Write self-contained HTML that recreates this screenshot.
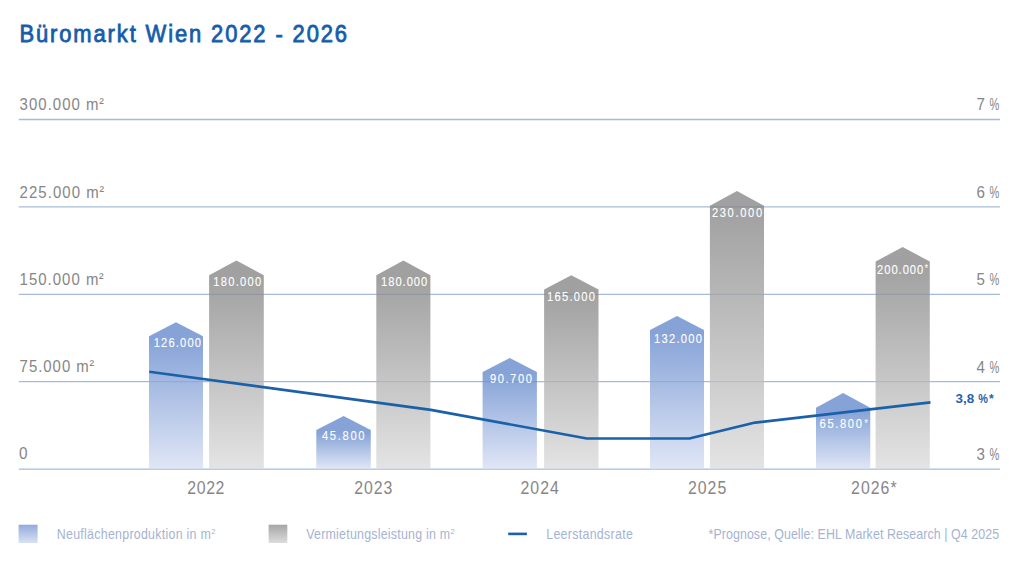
<!DOCTYPE html>
<html><head><meta charset="utf-8"><title>Büromarkt Wien 2022 - 2026</title>
<style>
html,body{margin:0;padding:0;background:#fff;width:1024px;height:576px;overflow:hidden;}
svg{display:block;font-family:"Liberation Sans", sans-serif;}
</style></head><body>
<svg width="1024" height="576" viewBox="0 0 1024 576">
<defs>
<linearGradient id="gb" x1="0" y1="0" x2="0" y2="1">
<stop offset="0" stop-color="#6388ca"/><stop offset="1" stop-color="#dae2f5"/>
</linearGradient>
<linearGradient id="gg" x1="0" y1="0" x2="0" y2="1">
<stop offset="0" stop-color="#858585"/><stop offset="1" stop-color="#dcdcdc"/>
</linearGradient>
<linearGradient id="lb" x1="0" y1="0" x2="0" y2="1">
<stop offset="0" stop-color="#92aadb"/><stop offset="1" stop-color="#d9e2f3"/>
</linearGradient>
<linearGradient id="lg" x1="0" y1="0" x2="0" y2="1">
<stop offset="0" stop-color="#a6a6a6"/><stop offset="1" stop-color="#dcdcdc"/>
</linearGradient>
</defs>
<rect width="1024" height="576" fill="#fff"/>
<text transform="translate(19.50 42.30) scale(0.9 1)" x="0" y="0" font-size="24.4" fill="#155dab" font-weight="normal" textLength="363.89" lengthAdjust="spacing" stroke="#155dab" stroke-width="0.85">Büromarkt Wien 2022 - 2026</text>
<text transform="translate(19.60 110.20) scale(0.88 1)" x="0" y="0" font-size="17" fill="#868686" font-weight="normal" textLength="89.66" lengthAdjust="spacing">300.000 m</text>
<text transform="translate(99.20 108.30) scale(0.95 1)" x="0" y="0" font-size="14.5" fill="#868686" font-weight="normal">²</text>
<text transform="translate(19.60 197.50) scale(0.88 1)" x="0" y="0" font-size="17" fill="#868686" font-weight="normal" textLength="90.00" lengthAdjust="spacing">225.000 m</text>
<text transform="translate(99.50 195.60) scale(0.95 1)" x="0" y="0" font-size="14.5" fill="#868686" font-weight="normal">²</text>
<text transform="translate(19.60 284.80) scale(0.88 1)" x="0" y="0" font-size="17" fill="#868686" font-weight="normal" textLength="89.55" lengthAdjust="spacing">150.000 m</text>
<text transform="translate(99.10 282.90) scale(0.95 1)" x="0" y="0" font-size="14.5" fill="#868686" font-weight="normal">²</text>
<text transform="translate(19.60 372.10) scale(0.88 1)" x="0" y="0" font-size="17" fill="#868686" font-weight="normal" textLength="78.64" lengthAdjust="spacing">75.000 m</text>
<text transform="translate(89.50 370.20) scale(0.95 1)" x="0" y="0" font-size="14.5" fill="#868686" font-weight="normal">²</text>
<text transform="translate(19.00 459.40) scale(0.9 1)" x="0" y="0" font-size="17" fill="#868686" font-weight="normal">0</text>
<text transform="translate(976.60 110.40) scale(0.89 1)" x="0" y="0" font-size="17" fill="#868686" font-weight="normal">7</text>
<text transform="translate(989.60 110.40) scale(0.65 1)" x="0" y="0" font-size="17" fill="#868686" font-weight="normal">%</text>
<text transform="translate(976.60 197.80) scale(0.89 1)" x="0" y="0" font-size="17" fill="#868686" font-weight="normal">6</text>
<text transform="translate(989.60 197.80) scale(0.65 1)" x="0" y="0" font-size="17" fill="#868686" font-weight="normal">%</text>
<text transform="translate(976.60 285.30) scale(0.89 1)" x="0" y="0" font-size="17" fill="#868686" font-weight="normal">5</text>
<text transform="translate(989.60 285.30) scale(0.65 1)" x="0" y="0" font-size="17" fill="#868686" font-weight="normal">%</text>
<text transform="translate(976.60 372.50) scale(0.89 1)" x="0" y="0" font-size="17" fill="#868686" font-weight="normal">4</text>
<text transform="translate(989.60 372.50) scale(0.65 1)" x="0" y="0" font-size="17" fill="#868686" font-weight="normal">%</text>
<text transform="translate(976.60 460.10) scale(0.89 1)" x="0" y="0" font-size="17" fill="#868686" font-weight="normal">3</text>
<text transform="translate(989.60 460.10) scale(0.65 1)" x="0" y="0" font-size="17" fill="#868686" font-weight="normal">%</text>
<line x1="18.8" y1="119.5" x2="1000" y2="119.5" stroke="#a6bbdb" stroke-width="1.3"/>
<line x1="18.8" y1="206.9" x2="1000" y2="206.9" stroke="#a6bbdb" stroke-width="1.3"/>
<line x1="18.8" y1="294.4" x2="1000" y2="294.4" stroke="#a6bbdb" stroke-width="1.3"/>
<line x1="18.8" y1="381.6" x2="1000" y2="381.6" stroke="#a6bbdb" stroke-width="1.3"/>
<line x1="18.8" y1="469.2" x2="1000" y2="469.2" stroke="#a6bbdb" stroke-width="1.3"/>
<linearGradient id="g1" gradientUnits="userSpaceOnUse" x1="0" y1="339.2" x2="0" y2="468.6"><stop offset="0" stop-color="#6489cc"/><stop offset="1" stop-color="#d7dff3"/></linearGradient><path d="M149.0 468.6 L149.0 336.2 L176.0 322.3 L203.0 336.2 L203.0 468.6 Z" fill="url(#g1)" fill-opacity="0.78"/>
<linearGradient id="g2" gradientUnits="userSpaceOnUse" x1="0" y1="432.9" x2="0" y2="468.6"><stop offset="0" stop-color="#6489cc"/><stop offset="1" stop-color="#d7dff3"/></linearGradient><path d="M316.3 468.6 L316.3 429.9 L343.6 416.0 L370.8 429.9 L370.8 468.6 Z" fill="url(#g2)" fill-opacity="0.78"/>
<linearGradient id="g3" gradientUnits="userSpaceOnUse" x1="0" y1="374.9" x2="0" y2="468.6"><stop offset="0" stop-color="#6489cc"/><stop offset="1" stop-color="#d7dff3"/></linearGradient><path d="M482.6 468.6 L482.6 371.9 L509.8 357.9 L536.9 371.9 L536.9 468.6 Z" fill="url(#g3)" fill-opacity="0.78"/>
<linearGradient id="g4" gradientUnits="userSpaceOnUse" x1="0" y1="332.9" x2="0" y2="468.6"><stop offset="0" stop-color="#6489cc"/><stop offset="1" stop-color="#d7dff3"/></linearGradient><path d="M650.0 468.6 L650.0 329.9 L677.0 316.0 L704.0 329.9 L704.0 468.6 Z" fill="url(#g4)" fill-opacity="0.78"/>
<linearGradient id="g5" gradientUnits="userSpaceOnUse" x1="0" y1="410.8" x2="0" y2="468.6"><stop offset="0" stop-color="#6489cc"/><stop offset="1" stop-color="#d7dff3"/></linearGradient><path d="M816.0 468.6 L816.0 407.8 L843.1 393.0 L870.3 407.8 L870.3 468.6 Z" fill="url(#g5)" fill-opacity="0.78"/>
<linearGradient id="g6" gradientUnits="userSpaceOnUse" x1="0" y1="278.2" x2="0" y2="468.6"><stop offset="0" stop-color="#868686"/><stop offset="1" stop-color="#dcdcdc"/></linearGradient><path d="M209.1 468.6 L209.1 275.2 L236.4 260.4 L263.8 275.2 L263.8 468.6 Z" fill="url(#g6)" fill-opacity="0.78"/>
<linearGradient id="g7" gradientUnits="userSpaceOnUse" x1="0" y1="278.2" x2="0" y2="468.6"><stop offset="0" stop-color="#868686"/><stop offset="1" stop-color="#dcdcdc"/></linearGradient><path d="M376.3 468.6 L376.3 275.2 L403.4 260.6 L430.4 275.2 L430.4 468.6 Z" fill="url(#g7)" fill-opacity="0.78"/>
<linearGradient id="g8" gradientUnits="userSpaceOnUse" x1="0" y1="292.5" x2="0" y2="468.6"><stop offset="0" stop-color="#868686"/><stop offset="1" stop-color="#dcdcdc"/></linearGradient><path d="M544.1 468.6 L544.1 289.5 L571.3 275.2 L598.5 289.5 L598.5 468.6 Z" fill="url(#g8)" fill-opacity="0.78"/>
<linearGradient id="g9" gradientUnits="userSpaceOnUse" x1="0" y1="208.7" x2="0" y2="468.6"><stop offset="0" stop-color="#868686"/><stop offset="1" stop-color="#dcdcdc"/></linearGradient><path d="M709.9 468.6 L709.9 205.7 L737.0 191.1 L764.0 205.7 L764.0 468.6 Z" fill="url(#g9)" fill-opacity="0.78"/>
<linearGradient id="g10" gradientUnits="userSpaceOnUse" x1="0" y1="264.5" x2="0" y2="468.6"><stop offset="0" stop-color="#868686"/><stop offset="1" stop-color="#dcdcdc"/></linearGradient><path d="M875.6 468.6 L875.6 261.5 L902.7 247.1 L929.8 261.5 L929.8 468.6 Z" fill="url(#g10)" fill-opacity="0.78"/>
<text transform="translate(153.70 346.90) scale(0.88 1)" x="0" y="0" font-size="12.7" fill="#ffffff" font-weight="normal" textLength="53.75" lengthAdjust="spacing" stroke="#fff" stroke-width="0.12">126.000</text>
<text transform="translate(321.90 440.20) scale(0.88 1)" x="0" y="0" font-size="12.7" fill="#ffffff" font-weight="normal" textLength="48.52" lengthAdjust="spacing" stroke="#fff" stroke-width="0.12">45.800</text>
<text transform="translate(489.90 383.00) scale(0.88 1)" x="0" y="0" font-size="12.7" fill="#ffffff" font-weight="normal" textLength="47.73" lengthAdjust="spacing" stroke="#fff" stroke-width="0.12">90.700</text>
<text transform="translate(654.00 343.20) scale(0.88 1)" x="0" y="0" font-size="12.7" fill="#ffffff" font-weight="normal" textLength="54.55" lengthAdjust="spacing" stroke="#fff" stroke-width="0.12">132.000</text>
<text transform="translate(819.60 428.20) scale(0.88 1)" x="0" y="0" font-size="12.7" fill="#ffffff" font-weight="normal" textLength="48.07" lengthAdjust="spacing" stroke="#fff" stroke-width="0.12">65.800</text>
<text transform="translate(864.30 426.80) scale(0.95 1)" x="0" y="0" font-size="10" fill="#ffffff" font-weight="normal">*</text>
<text transform="translate(213.20 285.80) scale(0.88 1)" x="0" y="0" font-size="12.7" fill="#ffffff" font-weight="normal" textLength="54.66" lengthAdjust="spacing" stroke="#fff" stroke-width="0.12">180.000</text>
<text transform="translate(381.00 285.80) scale(0.88 1)" x="0" y="0" font-size="12.7" fill="#ffffff" font-weight="normal" textLength="52.61" lengthAdjust="spacing" stroke="#fff" stroke-width="0.12">180.000</text>
<text transform="translate(547.10 300.50) scale(0.88 1)" x="0" y="0" font-size="12.7" fill="#ffffff" font-weight="normal" textLength="54.32" lengthAdjust="spacing" stroke="#fff" stroke-width="0.12">165.000</text>
<text transform="translate(711.90 217.40) scale(0.88 1)" x="0" y="0" font-size="12.7" fill="#ffffff" font-weight="normal" textLength="57.16" lengthAdjust="spacing" stroke="#fff" stroke-width="0.12">230.000</text>
<text transform="translate(877.10 273.80) scale(0.88 1)" x="0" y="0" font-size="12.7" fill="#ffffff" font-weight="normal" textLength="52.39" lengthAdjust="spacing" stroke="#fff" stroke-width="0.12">200.000</text>
<text transform="translate(924.50 272.40) scale(0.95 1)" x="0" y="0" font-size="10" fill="#ffffff" font-weight="normal">*</text>
<polyline points="149.3,371.7 430.8,409.9 586.9,438.5 689.3,438.5 755.2,422.6 930.5,402.4" fill="none" stroke="#1a61a9" stroke-width="2.6" stroke-linejoin="round"/>
<text x="955.5" y="402.6" font-size="13.4" fill="#2363ab" font-weight="bold">3,8</text>
<text transform="translate(978.30 402.60) scale(0.81 1)" x="0" y="0" font-size="13.4" fill="#2363ab" font-weight="bold">%</text>
<text transform="translate(989.00 402.60) scale(0.9 1)" x="0" y="0" font-size="13.4" fill="#2363ab" font-weight="bold">*</text>
<text transform="translate(187.30 494.00) scale(0.88 1)" x="0" y="0" font-size="18" fill="#868686" font-weight="normal" textLength="42.16" lengthAdjust="spacing">2022</text>
<text transform="translate(354.30 494.00) scale(0.88 1)" x="0" y="0" font-size="18" fill="#868686" font-weight="normal" textLength="43.07" lengthAdjust="spacing">2023</text>
<text transform="translate(520.50 494.00) scale(0.88 1)" x="0" y="0" font-size="18" fill="#868686" font-weight="normal" textLength="43.64" lengthAdjust="spacing">2024</text>
<text transform="translate(687.90 494.00) scale(0.88 1)" x="0" y="0" font-size="18" fill="#868686" font-weight="normal" textLength="43.64" lengthAdjust="spacing">2025</text>
<text transform="translate(851.10 494.00) scale(0.88 1)" x="0" y="0" font-size="18" fill="#868686" font-weight="normal" textLength="51.70" lengthAdjust="spacing">2026*</text>
<rect x="18.6" y="524.7" width="19" height="18.3" fill="url(#lb)"/>
<rect x="268.6" y="524.7" width="18.7" height="18.3" fill="url(#lg)"/>
<line x1="508.2" y1="533.9" x2="526.9" y2="533.9" stroke="#1a61a9" stroke-width="2.6"/>
<text transform="translate(56.80 539.20) scale(0.9 1)" x="0" y="0" font-size="13.8" fill="#a5b3d2" font-weight="normal" textLength="171.11" lengthAdjust="spacing">Neuflächenproduktion in m</text>
<text x="211.2" y="533.5" font-size="7.5" fill="#a5b3d2" font-weight="normal">2</text>
<text transform="translate(306.20 539.20) scale(0.9 1)" x="0" y="0" font-size="13.8" fill="#a5b3d2" font-weight="normal" textLength="160.00" lengthAdjust="spacing">Vermietungsleistung in m</text>
<text x="450.6" y="533.5" font-size="7.5" fill="#a5b3d2" font-weight="normal">2</text>
<text transform="translate(546.20 539.20) scale(0.9 1)" x="0" y="0" font-size="13.8" fill="#a5b3d2" font-weight="normal" textLength="96.22" lengthAdjust="spacing">Leerstandsrate</text>
<text transform="translate(708.50 539.20) scale(0.9 1)" x="0" y="0" font-size="13.8" fill="#a5b3d2" font-weight="normal" textLength="322.89" lengthAdjust="spacing">*Prognose, Quelle: EHL Market Research | Q4 2025</text>
</svg>
</body></html>
